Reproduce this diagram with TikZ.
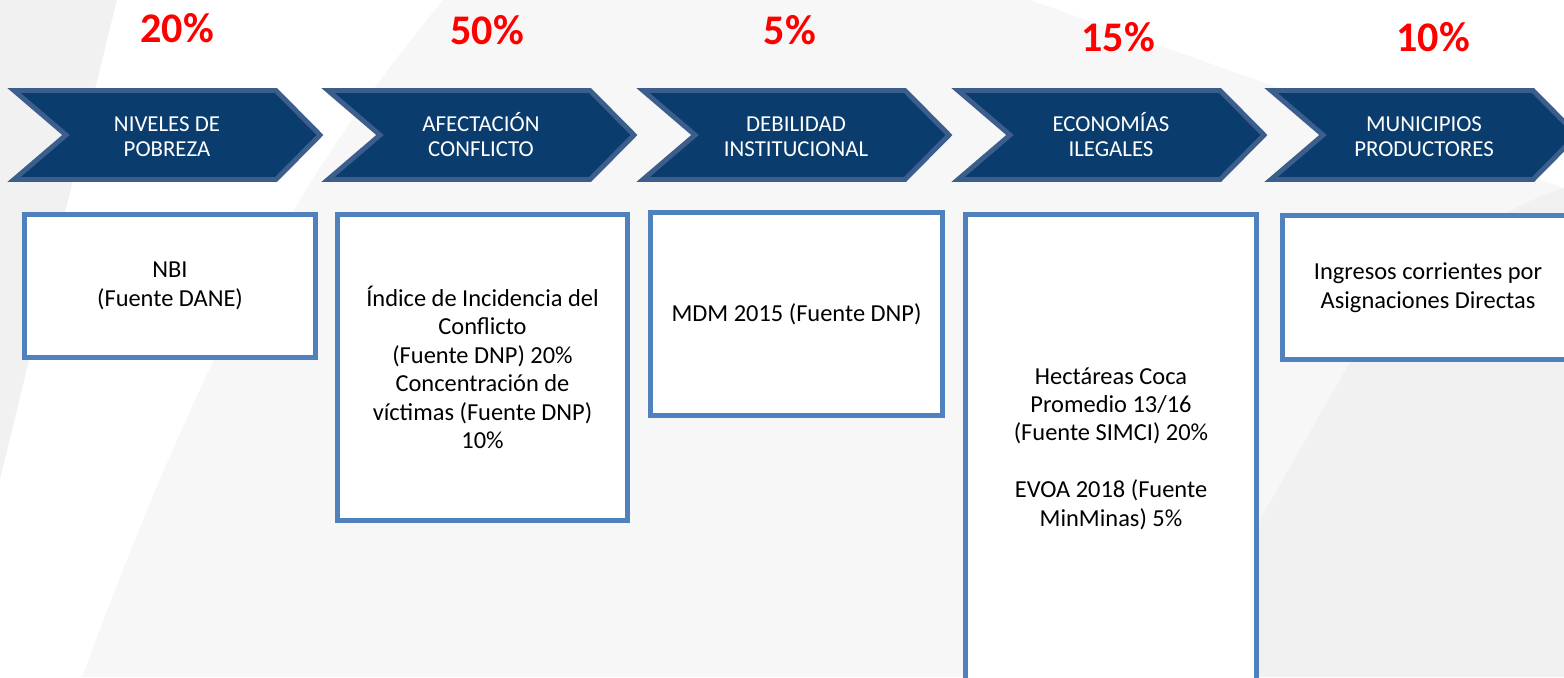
\documentclass[tikz,border=0pt]{standalone}
\usepackage{fontspec}
\setmainfont{Carlito}
\usepackage{tikz}
\definecolor{navy}{RGB}{10,61,110}
\definecolor{navyline}{RGB}{59,94,140}
\definecolor{boxblue}{RGB}{79,129,189}
\definecolor{bggrey}{RGB}{247,247,247}
\definecolor{bgdark}{RGB}{241,241,241}
\tikzset{
	chevshape/.style={fill=navy, draw=navyline, line width=2.8pt, line join=miter},
	chevtext/.style={text=white, align=center, font=\fontsize{13}{14.2}\selectfont},
	boxfrm/.style={draw=boxblue, fill=white, line width=2.8pt, align=center, inner sep=0pt, font=\fontsize{13.9}{16.2}\selectfont},
	pct/.style={text=red, font=\bfseries\fontsize{24}{24}\selectfont},
}
\def\chevron(#1)#2#3{\draw[chevshape] (#1+3, 90.5) -- (#1+265, 90.5) -- (#1+309, 135) -- (#1+265, 179.5) -- (#1+3, 179.5) -- (#1+55, 135) -- cycle;
	\node[chevtext] (#2) at (#1+156, 134.5) {\vphantom{Í}#3};}

\begin{document}
\begin{tikzpicture}[x=0.02cm, y=-0.02cm]
			%%%%% BACKGROUND %%%%%
			
			\useasboundingbox (0, 0) rectangle (1564, 677);
			\clip (0, 0) rectangle (1564, 677);
			\fill[bggrey] (0, 0) rectangle (1564, 677);
			\fill[bgdark] (0, 0) -- (117, 0) -- (0, 480) -- cycle;
			\fill[white] (117, 0) -- (443, 0) .. controls (310, 160) and (210, 330) .. (82, 677) -- (0, 677) -- (0, 480) -- cycle;
			\fill[white] (1030, 0) -- (1564, 0) -- (1564, 188) -- cycle;
			\fill[bgdark] (1240, 677) -- (1260, 520) -- (1347, 367) .. controls (1420, 270) and (1480, 215) .. (1564, 188) -- (1564, 677) -- cycle;
			
			%%%%% CHEVRONS %%%%%
			
			\chevron(11){pobreza}{NIVELES DE\\POBREZA}
			\chevron(325){conflicto}{AFECTACIÓN\\CONFLICTO}
			\chevron(640){debilidad}{DEBILIDAD\\INSTITUCIONAL}
			\chevron(955){ilegales}{ECONOMÍAS\\ILEGALES}
			\chevron(1268){productores}{MUNICIPIOS\\PRODUCTORES}
			
			\node[pct] (pobpct) at (177, 28) {20\%};
			\node[pct] (confpct) at (487, 30) {50\%};
			\node[pct] (debpct) at (790, 30) {5\%};
			\node[pct] (ilegpct) at (1118, 37) {15\%};
			\node[pct] (prodpct) at (1433, 37) {10\%};
			
			%%%%% BOXES %%%%%
			
			\node[boxfrm, minimum width=5.82cm, minimum height=2.86cm] (nbi) at (170, 286) {NBI\\(Fuente DANE)};
			\node[boxfrm, minimum width=5.80cm, minimum height=6.12cm] (incidencia) at (482.5, 367.5) {Índice de Incidencia del\\Conflicto\\ (Fuente DNP) 20\%\\Concentración de\\víctimas (Fuente DNP)\\10\%};
			\node[boxfrm, minimum width=5.84cm, minimum height=4.06cm] (mdm) at (796.5, 314) {MDM 2015 (Fuente DNP)};
			\node[boxfrm, minimum width=5.82cm, minimum height=9.36cm] (coca) at (1111, 448.5) {Hectáreas Coca\\Promedio 13/16\\ (Fuente SIMCI) 20\%\\[16.2pt]EVOA 2018 (Fuente\\MinMinas) 5\%};
			\node[boxfrm, minimum width=5.82cm, minimum height=2.88cm] (ingresos) at (1428, 287.5) {Ingresos corrientes por\\Asignaciones Directas};
			
			%%%%% END %%%%%
\end{tikzpicture}
\end{document}
